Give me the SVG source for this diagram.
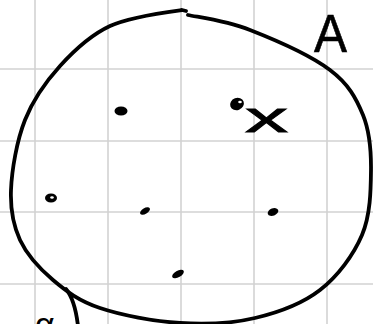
<svg xmlns="http://www.w3.org/2000/svg" width="373" height="324" viewBox="0 0 373 324">
<style>
.grid line{stroke:#d2d2d2;stroke-width:1.6}
.ink{fill:none;stroke:#000;stroke-width:3.8;stroke-linecap:round;stroke-linejoin:round}
.dot{fill:#000}
.hand{font-family:"Liberation Sans",Arial,sans-serif;fill:#000}
</style>
<rect width="373" height="324" fill="#fff"/>
<g class="grid">
<line x1="35" y1="0" x2="35" y2="324"/>
<line x1="108" y1="0" x2="108" y2="324"/>
<line x1="181" y1="0" x2="181" y2="324"/>
<line x1="254" y1="0" x2="254" y2="324"/>
<line x1="327" y1="0" x2="327" y2="324"/>
<line x1="0" y1="69" x2="373" y2="69"/>
<line x1="0" y1="141" x2="373" y2="141"/>
<line x1="0" y1="212" x2="373" y2="212"/>
<line x1="0" y1="284" x2="373" y2="284"/>
</g>
<g id="setA">
<path class="ink" d="M188,15 C198.7,17.3 226.2,20.7 250,30 C273.8,39.3 311.2,55.8 330,70 C348.8,84.2 356.2,98.3 363,115 C369.8,131.7 371.2,150 371,170 C370.8,190 370.5,215 362,235 C353.5,255 337.8,276.2 320,290 C302.2,303.8 278.3,312.5 255,318 C231.7,323.5 205.8,324.7 180,323 C154.2,321.3 121.2,315.2 100,308 C78.8,300.8 66.3,291.3 53,280 C39.7,268.7 27,255 20,240 C13,225 10.2,210 11,190 C11.8,170 16.8,140.7 25,120 C33.2,99.3 45.8,81.7 60,66 C74.2,50.3 90,35.3 110,26 C130,16.7 167.2,12 182,10 L186,11"/>
<text class="hand" x="314" y="52" font-size="54" stroke="#000" stroke-width="0.6" textLength="33" lengthAdjust="spacingAndGlyphs">A</text>
</g>
<g id="elements">
<ellipse class="dot" cx="121" cy="111" rx="6.5" ry="4.5"/>
<ellipse class="dot" cx="237" cy="104" rx="7" ry="6" transform="rotate(-20 237 104)"/>
<ellipse cx="240" cy="102" rx="1.8" ry="1.3" fill="#fff"/>
<ellipse class="dot" cx="51" cy="198" rx="6" ry="4.5"/>
<ellipse cx="52" cy="197.5" rx="1.8" ry="1.2" fill="#fff"/>
<ellipse class="dot" cx="145" cy="211" rx="5.5" ry="2.8" transform="rotate(-30 145 211)"/>
<ellipse class="dot" cx="273" cy="212" rx="5.5" ry="3.6" transform="rotate(-20 273 212)"/>
<ellipse class="dot" cx="178" cy="274" rx="6.5" ry="3.3" transform="rotate(-30 178 274)"/>
<text class="hand" x="245" y="132" font-size="42" stroke="#000" stroke-width="0.8" textLength="43" lengthAdjust="spacingAndGlyphs">x</text>
</g>
<g id="connectors">
<path class="ink" d="M66,289 Q75,300 78,326"/>
</g>
<g id="setB">
<text class="hand" x="35" y="336" font-size="34">α</text>
</g>
</svg>
